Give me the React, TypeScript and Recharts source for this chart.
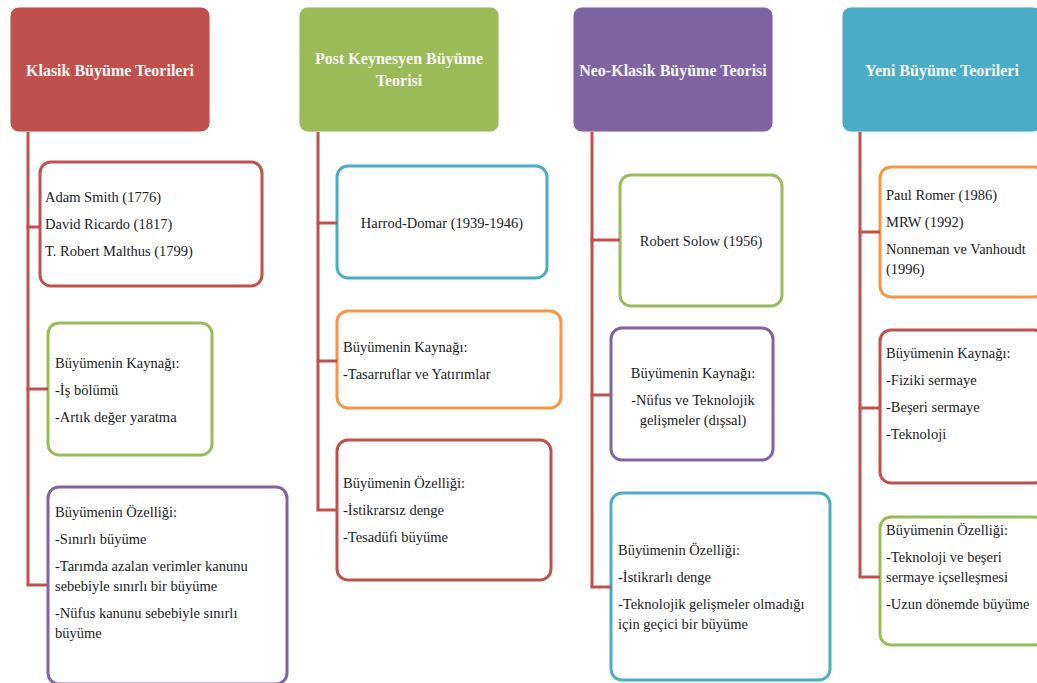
import React from 'react';
import { ComposedChart, XAxis, YAxis, ReferenceArea, ReferenceLine } from 'recharts';

// ---------- text data ----------
const headers = [
  'Klasik Büyüme Teorileri',
  'Post Keynesyen Büyüme\nTeorisi',
  'Neo-Klasik Büyüme Teorisi',
  'Yeni Büyüme Teorileri',
];

const klasikItems = [
  ['Adam Smith (1776)', 'David Ricardo (1817)', 'T. Robert Malthus (1799)'],
  ['Büyümenin Kaynağı:', '-İş bölümü', '-Artık değer yaratma'],
  [
    'Büyümenin Özelliği:',
    '-Sınırlı büyüme',
    '-Tarımda azalan verimler kanunu\nsebebiyle sınırlı bir büyüme',
    '-Nüfus kanunu sebebiyle sınırlı\nbüyüme',
  ],
];

const postKeynesItems = [
  ['Harrod-Domar (1939-1946)'],
  ['Büyümenin Kaynağı:', '-Tasarruflar ve Yatırımlar'],
  ['Büyümenin Özelliği:', '-İstikrarsız denge', '-Tesadüfi büyüme'],
];

const neoKlasikItems = [
  ['Robert Solow (1956)'],
  ['Büyümenin Kaynağı:', '-Nüfus ve Teknolojik\ngelişmeler (dışsal)'],
  [
    'Büyümenin Özelliği:',
    '-İstikrarlı denge',
    '-Teknolojik gelişmeler olmadığı\niçin geçici bir büyüme',
  ],
];

const yeniItems = [
  ['Paul Romer (1986)', 'MRW (1992)', 'Nonneman ve Vanhoudt\n(1996)'],
  ['Büyümenin Kaynağı:', '-Fiziki sermaye', '-Beşeri sermaye', '-Teknoloji'],
  ['Büyümenin Özelliği:', '-Teknoloji ve beşeri\nsermaye içselleşmesi', '-Uzun dönemde büyüme'],
];

const columnItems = [klasikItems, postKeynesItems, neoKlasikItems, yeniItems];

// ---------- layout / style ----------
const RED = '#c0504d';
const GREEN = '#9bbb59';
const PURPLE = '#8064a2';
const BLUE = '#4bacc6';
const ORANGE = '#f79646';

const W = 1037;
const H = 683;
const FONT = '"Liberation Serif", "Times New Roman", serif';

const headerColors = [RED, GREEN, PURPLE, BLUE];
const headerLayout = [
  { x1: 10, x2: 210, y1: 7, y2: 132, ty: 70 },
  { x1: 299, x2: 499, y1: 7, y2: 132, ty: 58 },
  { x1: 573, x2: 773, y1: 7, y2: 132, ty: 70 },
  { x1: 842, x2: 1042, y1: 7, y2: 132, ty: 70 },
];
const trunkX = [28, 318, 592, 860];

type BoxLayout = {
  x1: number; x2: number; y1: number; y2: number;
  cy: number; ty: number; tx: number; align: 'start' | 'middle'; color: string;
};

const boxLayout: BoxLayout[][] = [
  [
    { x1: 40, x2: 262, y1: 162, y2: 286, cy: 227, ty: 197, tx: 45, align: 'start', color: RED },
    { x1: 48, x2: 212, y1: 323, y2: 455, cy: 389, ty: 363, tx: 55, align: 'start', color: GREEN },
    { x1: 48, x2: 287, y1: 487, y2: 684, cy: 585, ty: 512, tx: 55, align: 'start', color: PURPLE },
  ],
  [
    { x1: 337, x2: 547, y1: 166, y2: 278, cy: 223, ty: 223, tx: 442, align: 'middle', color: BLUE },
    { x1: 337, x2: 561, y1: 311, y2: 408, cy: 361, ty: 347, tx: 343, align: 'start', color: ORANGE },
    { x1: 337, x2: 551, y1: 440, y2: 580, cy: 510, ty: 483, tx: 343, align: 'start', color: RED },
  ],
  [
    { x1: 620, x2: 782, y1: 175, y2: 306, cy: 240, ty: 241, tx: 701, align: 'middle', color: GREEN },
    { x1: 611, x2: 773, y1: 328, y2: 460, cy: 395, ty: 373, tx: 693, align: 'middle', color: PURPLE },
    { x1: 611, x2: 830, y1: 493, y2: 680, cy: 587, ty: 550, tx: 618, align: 'start', color: BLUE },
  ],
  [
    { x1: 880, x2: 1045, y1: 167, y2: 297, cy: 232, ty: 195, tx: 886, align: 'start', color: ORANGE },
    { x1: 880, x2: 1045, y1: 330, y2: 483, cy: 408, ty: 353, tx: 886, align: 'start', color: RED },
    { x1: 880, x2: 1045, y1: 517, y2: 645, cy: 577, ty: 530, tx: 886, align: 'start', color: GREEN },
  ],
];

const ITEM_GAP = 27;
const WRAP_GAP = 20;

function layoutLines(items: string[], startY: number) {
  const out: { text: string; y: number }[] = [];
  let y = startY;
  items.forEach((item, i) => {
    if (i > 0) y += ITEM_GAP;
    item.split('\n').forEach((ln, j) => {
      if (j > 0) y += WRAP_GAP;
      out.push({ text: ln, y });
    });
  });
  return out;
}

// scale helpers derived from the rendered area (chart px == domain units with zero margins)
const makeBoxShape = (items: string[], lay: BoxLayout) => (props: any) => {
  const { x, y, width, height } = props;
  const sy = height / (lay.y2 - lay.y1);
  const sx = width / (lay.x2 - lay.x1);
  const lines = layoutLines(items, lay.ty);
  return (
    <g>
      <rect x={x} y={y} width={width} height={height} rx={11} ry={11}
        fill="#fefefe" stroke={lay.color} strokeWidth={3} />
      {lines.map((l, i) => (
        <text key={i} x={x + (lay.tx - lay.x1) * sx} y={y + (l.y - lay.y1) * sy}
          textAnchor={lay.align} dominantBaseline="central"
          fontFamily={FONT} fontSize={14.5} fill="#1c1c1c">
          {l.text}
        </text>
      ))}
    </g>
  );
};

const makeHeaderShape = (title: string, idx: number) => (props: any) => {
  const { x, y, width, height } = props;
  const lay = headerLayout[idx];
  const sy = height / (lay.y2 - lay.y1);
  const lines = title.split('\n');
  return (
    <g>
      <rect x={x} y={y} width={width} height={height} rx={9} ry={9}
        fill={headerColors[idx]} stroke="#f0f0f0" strokeWidth={1} />
      {lines.map((ln, i) => (
        <text key={i} x={x + width / 2} y={y + (lay.ty + i * 22 - lay.y1) * sy}
          textAnchor="middle" dominantBaseline="central"
          fontFamily={FONT} fontWeight="bold" fontSize={16} fill="#f7f7f2">
          {ln}
        </text>
      ))}
    </g>
  );
};

export default function App() {
  return (
    <div style={{ position: 'absolute', left: 0, top: 0, width: W, height: H, background: '#ffffff' }}>
      <ComposedChart width={W} height={H} data={[]} margin={{ top: 0, right: 0, bottom: 0, left: 0 }}>
        <XAxis type="number" dataKey="x" domain={[0, W]} hide allowDataOverflow />
        <YAxis type="number" dataKey="y" domain={[0, H]} reversed hide allowDataOverflow />

        {/* trunks */}
        {trunkX.map((tx, c) => {
          const last = boxLayout[c][boxLayout[c].length - 1];
          return (
            <ReferenceLine key={'t' + c} ifOverflow="visible"
              segment={[{ x: tx, y: headerLayout[c].y2 }, { x: tx, y: last.cy }]}
              stroke={RED} strokeWidth={3} />
          );
        })}
        {/* branches */}
        {boxLayout.map((col, c) =>
          col.map((b, i) => (
            <ReferenceLine key={'b' + c + '-' + i} ifOverflow="visible"
              segment={[{ x: trunkX[c] - 1.5, y: b.cy }, { x: b.x1, y: b.cy }]}
              stroke={RED} strokeWidth={3} />
          ))
        )}

        {/* headers */}
        {headers.map((h, c) => (
          <ReferenceArea key={'h' + c} ifOverflow="visible"
            x1={headerLayout[c].x1} x2={headerLayout[c].x2}
            y1={headerLayout[c].y1} y2={headerLayout[c].y2}
            shape={makeHeaderShape(h, c)} />
        ))}

        {/* content boxes */}
        {columnItems.map((col, c) =>
          col.map((items, i) => {
            const lay = boxLayout[c][i];
            return (
              <ReferenceArea key={'box' + c + '-' + i} ifOverflow="visible"
                x1={lay.x1} x2={lay.x2} y1={lay.y1} y2={lay.y2}
                shape={makeBoxShape(items, lay)} />
            );
          })
        )}
      </ComposedChart>
    </div>
  );
}
